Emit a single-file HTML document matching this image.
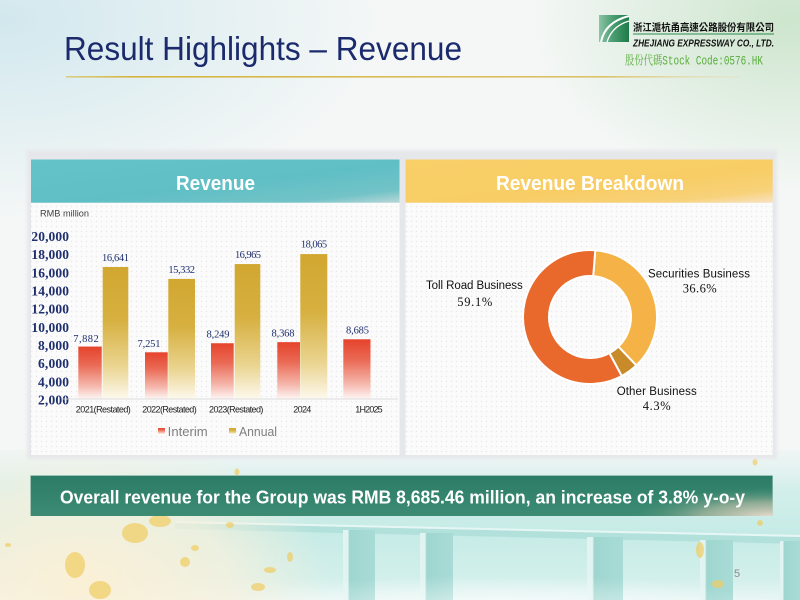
<!DOCTYPE html>
<html><head><meta charset="utf-8"><style>
html,body{margin:0;padding:0;width:800px;height:600px;overflow:hidden;background:#f4f7f6}
svg{display:block}
</style></head><body>
<svg width="800" height="600" viewBox="0 0 800 600" xmlns="http://www.w3.org/2000/svg">
<defs>
<radialGradient id="bgTL" cx="0" cy="0" r="1" gradientUnits="userSpaceOnUse" gradientTransform="translate(0,20) scale(380,200)">
<stop offset="0" stop-color="#d2e8ee"/><stop offset="1" stop-color="#d2e8ee" stop-opacity="0"/></radialGradient>
<radialGradient id="bgTR" cx="0" cy="0" r="1" gradientUnits="userSpaceOnUse" gradientTransform="translate(790,20) scale(260,170)">
<stop offset="0" stop-color="#cde5cd"/><stop offset="1" stop-color="#cde5cd" stop-opacity="0"/></radialGradient>
<linearGradient id="bgBot" x1="0" y1="450" x2="0" y2="600" gradientUnits="userSpaceOnUse">
<stop offset="0" stop-color="#e4f2ef" stop-opacity="0.3"/><stop offset="0.25" stop-color="#d4efeb"/><stop offset="0.55" stop-color="#c6ebe6"/><stop offset="0.85" stop-color="#d2efeb"/><stop offset="1" stop-color="#e8f6f4"/></linearGradient>
<radialGradient id="bgCream" cx="0" cy="0" r="1" gradientUnits="userSpaceOnUse" gradientTransform="translate(80,580) scale(250,140)">
<stop offset="0" stop-color="#fbf0d6"/><stop offset="0.6" stop-color="#faf1dc" stop-opacity="0.7"/><stop offset="1" stop-color="#faf1dc" stop-opacity="0"/></radialGradient>
<radialGradient id="mist" cx="0" cy="0" r="1" gradientUnits="userSpaceOnUse" gradientTransform="translate(500,615) scale(300,40)">
<stop offset="0" stop-color="#ffffff" stop-opacity="0.7"/><stop offset="1" stop-color="#ffffff" stop-opacity="0"/></radialGradient>
<linearGradient id="goldLine" x1="66" y1="0" x2="740" y2="0" gradientUnits="userSpaceOnUse">
<stop offset="0" stop-color="#d8b640" stop-opacity="0.6"/><stop offset="0.1" stop-color="#d6b43c"/><stop offset="0.8" stop-color="#dcc26a"/><stop offset="1" stop-color="#e6dcb0" stop-opacity="0.3"/></linearGradient>
<linearGradient id="tealHdr" x1="0" y1="0" x2="1" y2="1">
<stop offset="0" stop-color="#63c3c8"/><stop offset="0.55" stop-color="#5fbfc5"/><stop offset="0.85" stop-color="#72c3c7"/><stop offset="1" stop-color="#b9d7d8"/></linearGradient>
<linearGradient id="yelHdr" x1="0" y1="0" x2="1" y2="1">
<stop offset="0" stop-color="#f9cf68"/><stop offset="0.6" stop-color="#f8cd66"/><stop offset="0.85" stop-color="#f8d27a"/><stop offset="1" stop-color="#f8e2c4"/></linearGradient>
<linearGradient id="banner" x1="0" y1="0" x2="0" y2="1">
<stop offset="0" stop-color="#2b7c66"/><stop offset="1" stop-color="#3d8b73"/></linearGradient>
<radialGradient id="bannerGlow" cx="0" cy="0" r="1" gradientUnits="userSpaceOnUse" gradientTransform="translate(775,518) scale(150,32)">
<stop offset="0" stop-color="#f4e2d4"/><stop offset="0.5" stop-color="#c8c4ae" stop-opacity="0.6"/><stop offset="1" stop-color="#3d8b73" stop-opacity="0"/></radialGradient>
<linearGradient id="redBar" x1="0" y1="0" x2="0" y2="1">
<stop offset="0" stop-color="#e5432c"/><stop offset="0.35" stop-color="#ea6a55"/><stop offset="0.75" stop-color="#f5b8ad"/><stop offset="1" stop-color="#fef6f4"/></linearGradient>
<linearGradient id="goldBar" x1="0" y1="0" x2="0" y2="1">
<stop offset="0" stop-color="#d1a730"/><stop offset="0.4" stop-color="#d6b040"/><stop offset="0.75" stop-color="#ead490"/><stop offset="1" stop-color="#fdf9ee"/></linearGradient>
<linearGradient id="pier" x1="0" y1="0" x2="1" y2="0">
<stop offset="0" stop-color="#e2f4f2"/><stop offset="0.15" stop-color="#e2f4f2"/><stop offset="0.2" stop-color="#9fd6d0"/><stop offset="1" stop-color="#a9dbd6"/></linearGradient>
<pattern id="dots" x="0" y="0" width="5" height="5" patternUnits="userSpaceOnUse">
<rect width="5" height="5" fill="#fbfbfb"/><circle cx="1.5" cy="1.5" r="0.7" fill="#e8e8e8"/></pattern>
<filter id="soft" x="-5%" y="-5%" width="110%" height="110%"><feGaussianBlur stdDeviation="1.5"/></filter>
<linearGradient id="logoG" x1="0" y1="0" x2="1" y2="0">
<stop offset="0" stop-color="#8cc3a6"/><stop offset="0.45" stop-color="#4c9f73"/><stop offset="1" stop-color="#1d7a47"/></linearGradient>
</defs>

<!-- background -->
<rect width="800" height="600" fill="#f4f7f6"/>
<rect width="800" height="260" fill="url(#bgTL)"/>
<rect width="800" height="260" fill="url(#bgTR)"/>
<rect y="450" width="800" height="150" fill="url(#bgBot)"/>
<!-- bridge -->
<polygon points="175,523 800,537 800,544 175,529" fill="#b2e1dc"/>
<polygon points="175,521 800,535 800,537 175,523" fill="#e6f6f4"/>
<rect x="343" y="530" width="32" height="70" fill="url(#pier)"/>
<rect x="420" y="533" width="33" height="67" fill="url(#pier)"/>
<rect x="587" y="537" width="36" height="63" fill="url(#pier)"/>
<rect x="700" y="540" width="33" height="60" fill="url(#pier)"/>
<rect x="780" y="541" width="20" height="59" fill="url(#pier)"/>
<rect y="440" width="800" height="160" fill="url(#bgCream)"/>
<rect y="565" width="800" height="35" fill="url(#mist)"/>
<!-- gold splashes -->
<g fill="#f0cd62" opacity="0.7">
<ellipse cx="135" cy="533" rx="13" ry="10"/>
<ellipse cx="160" cy="521" rx="11" ry="6"/>
<ellipse cx="75" cy="565" rx="10" ry="13"/>
<ellipse cx="100" cy="590" rx="11" ry="9"/>
<ellipse cx="185" cy="562" rx="5" ry="5"/>
<ellipse cx="195" cy="548" rx="4" ry="3"/>
<ellipse cx="270" cy="570" rx="6" ry="3"/>
<ellipse cx="290" cy="557" rx="3" ry="5"/>
<ellipse cx="258" cy="587" rx="7" ry="4"/>
<ellipse cx="230" cy="525" rx="4" ry="3"/>
<ellipse cx="8" cy="545" rx="3" ry="2"/>
<ellipse cx="700" cy="550" rx="4" ry="8"/>
<ellipse cx="718" cy="584" rx="6" ry="4"/>
<ellipse cx="760" cy="523" rx="3" ry="3"/>
<ellipse cx="237" cy="472" rx="2.5" ry="3.5"/>
<ellipse cx="755" cy="462" rx="2.5" ry="3.5"/>
</g>

<!-- title -->
<text x="64" y="60" font-family="Liberation Sans, sans-serif" font-size="33" fill="#1b2a6c" textLength="398" lengthAdjust="spacingAndGlyphs">Result Highlights – Revenue</text>
<rect x="66" y="76" width="674" height="1.6" fill="url(#goldLine)"/>

<!-- logo -->
<rect x="599" y="15" width="30" height="27" fill="url(#logoG)"/>
<path d="M601,42 Q605,22 629,16" stroke="#ffffff" stroke-width="2" fill="none"/>
<path d="M607,42 Q612,26 629,21" stroke="#ffffff" stroke-width="1.3" fill="none"/>
<text x="633" y="31" font-family="Noto Sans CJK TC, sans-serif" font-weight="bold" font-size="10" fill="#111" textLength="141" lengthAdjust="spacingAndGlyphs">浙江滬杭甬高速公路股份有限公司</text>
<rect x="633" y="33.5" width="141" height="1" fill="#2c8a4c"/>
<text x="633" y="46.5" font-family="Liberation Sans, sans-serif" font-weight="bold" font-style="italic" font-size="10" fill="#111" textLength="141" lengthAdjust="spacingAndGlyphs">ZHEJIANG EXPRESSWAY CO., LTD.</text>
<text x="625" y="64.5" font-family="Liberation Mono, Noto Serif CJK SC, monospace" font-size="12.5" fill="#5aac3c" textLength="138" lengthAdjust="spacingAndGlyphs">股份代碼Stock Code:0576.HK</text>

<!-- panel container -->
<rect x="27" y="150" width="750" height="309" fill="#e6e7ea" filter="url(#soft)"/>
<!-- left panel -->
<rect x="31" y="202.7" width="368.5" height="252.3" fill="url(#dots)"/>
<rect x="31" y="159.5" width="368.5" height="43.2" fill="url(#tealHdr)"/>
<text x="215.5" y="190" text-anchor="middle" font-family="Liberation Sans, sans-serif" font-weight="bold" font-size="20" fill="#ffffff" textLength="79" lengthAdjust="spacingAndGlyphs">Revenue</text>
<!-- right panel -->
<rect x="405.5" y="202.7" width="367.2" height="252.3" fill="url(#dots)"/>
<rect x="405.5" y="159.5" width="367.2" height="43.2" fill="url(#yelHdr)"/>
<text x="590" y="190" text-anchor="middle" font-family="Liberation Sans, sans-serif" font-weight="bold" font-size="20" fill="#ffffff" textLength="188" lengthAdjust="spacingAndGlyphs">Revenue Breakdown</text>

<!-- bar chart -->
<text x="40" y="216.5" font-family="Liberation Sans, sans-serif" font-size="9" fill="#404040" textLength="49" lengthAdjust="spacingAndGlyphs">RMB million</text>
<g font-family="Liberation Serif, serif" font-weight="bold" font-size="13.5" fill="#1f2f6e" text-anchor="end" lengthAdjust="spacingAndGlyphs">
<text x="69" y="241" textLength="37.6">20,000</text>
<text x="69" y="259.2" textLength="37.6">18,000</text>
<text x="69" y="277.3" textLength="37.6">16,000</text>
<text x="69" y="295.5" textLength="37.6">14,000</text>
<text x="69" y="313.7" textLength="37.6">12,000</text>
<text x="69" y="331.8" textLength="37.6">10,000</text>
<text x="69" y="350" textLength="31">8,000</text>
<text x="69" y="368.2" textLength="31">6,000</text>
<text x="69" y="386.3" textLength="31">4,000</text>
<text x="69" y="404.5" textLength="31">2,000</text>
</g>
<!-- bars -->
<rect x="78.3" y="346.57" width="23.4" height="52.43" fill="url(#redBar)"/>
<rect x="102.7" y="267.01" width="25.6" height="131.99" fill="url(#goldBar)"/>
<rect x="145" y="352.3" width="22.7" height="46.7" fill="url(#redBar)"/>
<rect x="168.3" y="278.9" width="26.7" height="120.1" fill="url(#goldBar)"/>
<rect x="211" y="343.24" width="22.7" height="55.76" fill="url(#redBar)"/>
<rect x="234.7" y="264.07" width="25.6" height="134.93" fill="url(#goldBar)"/>
<rect x="277.3" y="342.16" width="22.7" height="56.84" fill="url(#redBar)"/>
<rect x="300.3" y="254.08" width="27" height="144.92" fill="url(#goldBar)"/>
<rect x="343.3" y="339.28" width="27.2" height="59.72" fill="url(#redBar)"/>
<rect x="62" y="398.6" width="336" height="0.8" fill="#d4d4d4"/>
<!-- data labels -->
<g font-family="Liberation Serif, serif" font-size="10.5" fill="#1f2f6e" text-anchor="middle" lengthAdjust="spacingAndGlyphs">
<text x="86" y="342" textLength="25.5">7,882</text>
<text x="115.5" y="261" textLength="27">16,641</text>
<text x="149" y="347" textLength="23">7,251</text>
<text x="181.7" y="273" textLength="26.7">15,332</text>
<text x="218" y="337.5" textLength="23">8,249</text>
<text x="248" y="258" textLength="26">16,965</text>
<text x="283" y="336.5" textLength="23">8,368</text>
<text x="314" y="247.5" textLength="26.3">18,065</text>
<text x="357.5" y="333.3" textLength="23">8,685</text>
</g>
<!-- category labels -->
<g font-family="Liberation Sans, sans-serif" font-size="9" fill="#222" text-anchor="middle" lengthAdjust="spacingAndGlyphs">
<text x="103.3" y="412.7" textLength="55">2021(Restated)</text>
<text x="169.5" y="412.7" textLength="54.4">2022(Restated)</text>
<text x="236.2" y="412.7" textLength="54.3">2023(Restated)</text>
<text x="302.3" y="412.7" textLength="18">2024</text>
<text x="369" y="412.7" textLength="27.4">1H2025</text>
</g>
<!-- legend -->
<rect x="158" y="428" width="7" height="6" fill="url(#redBar)"/>
<text x="167.7" y="436" font-family="Liberation Sans, sans-serif" font-size="12.5" fill="#7f7f7f" textLength="40" lengthAdjust="spacingAndGlyphs">Interim</text>
<rect x="229" y="428" width="7" height="6" fill="url(#goldBar)"/>
<text x="239" y="436" font-family="Liberation Sans, sans-serif" font-size="12.5" fill="#7f7f7f" textLength="38" lengthAdjust="spacingAndGlyphs">Annual</text>

<!-- donut -->
<g stroke="#ffffff" stroke-width="2" stroke-linejoin="round">
<path d="M595.26,250.21 A67,67 0 0 1 636.33,365.40 L618.35,346.62 A41,41 0 0 0 593.22,276.13 Z" fill="#f5b347"/>
<path d="M636.33,365.40 A67,67 0 0 1 621.72,376.02 L609.41,353.11 A41,41 0 0 0 618.35,346.62 Z" fill="#c98a2a"/>
<path d="M621.72,376.02 A67,67 0 1 1 595.26,250.21 L593.22,276.13 A41,41 0 1 0 609.41,353.11 Z" fill="#e8692b"/>
</g>
<g font-family="Liberation Sans, sans-serif" font-size="11.5" fill="#111" lengthAdjust="spacingAndGlyphs">
<text x="426" y="289" textLength="96.7">Toll Road Business</text>
<text x="648" y="277.5" textLength="102">Securities Business</text>
<text x="616.7" y="395" textLength="80">Other Business</text>
</g>
<g font-family="Liberation Serif, serif" font-size="12.5" fill="#111" text-anchor="middle" lengthAdjust="spacingAndGlyphs">
<text x="474.8" y="306" textLength="35">59.1%</text>
<text x="699.7" y="292.5" textLength="34">36.6%</text>
<text x="656.7" y="410" textLength="28">4.3%</text>
</g>

<!-- banner -->
<rect x="30.6" y="475" width="742" height="41" fill="url(#banner)"/>
<rect x="30.6" y="475" width="742" height="41" fill="url(#bannerGlow)"/>
<rect x="30.6" y="475" width="742" height="1" fill="#e8f2ee" opacity="0.6"/>
<text x="402.5" y="503.5" text-anchor="middle" font-family="Liberation Sans, sans-serif" font-weight="bold" font-size="18.5" fill="#ffffff" textLength="685" lengthAdjust="spacingAndGlyphs">Overall revenue for the Group was RMB 8,685.46 million, an increase of 3.8% y-o-y</text>

<!-- page number -->
<text x="734" y="577" font-family="Liberation Sans, sans-serif" font-size="11" fill="#8a8a8a">5</text>
</svg>
</body></html>
